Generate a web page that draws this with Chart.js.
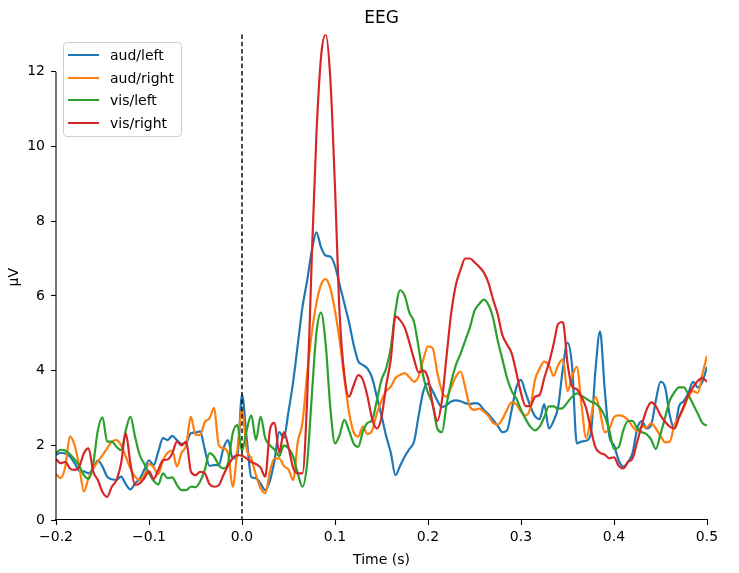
<!DOCTYPE html>
<html>
<head>
<meta charset="utf-8">
<script src="https://cdn.jsdelivr.net/npm/chart.js@4.4.1/dist/chart.umd.min.js"></script>
<style>
  html, body { margin: 0; padding: 0; background: #fff; }
  #wrap { position: relative; width: 739px; height: 573px; font-family: "DejaVu Sans", sans-serif; }
  #legend { position: absolute; left: 63px; top: 42px; width: 117px; height: 92px; border: 1px solid #d0d0d0; border-radius: 4px; background: rgba(255,255,255,0.8); padding-top: 1px; box-sizing: content-box; }
  .row { height: 22.6px; display: flex; align-items: center; font-size: 14px; color: #000; }
  .swatch { width: 31px; height: 2px; margin-left: 4px; margin-right: 11px; }
</style>
</head>
<body>
<div id="wrap">
  <canvas id="c" width="739" height="573"></canvas>
  <div id="legend"></div>
</div>
<script>
const seriesNames = ['aud/left', 'aud/right', 'vis/left', 'vis/right'];
const seriesColors = ['#1f77b4', '#ff7f0e', '#2ca02c', '#d62728'];

const times = [
  -0.200,-0.195,-0.190,-0.185,-0.180,-0.175,-0.170,-0.165,-0.160,-0.155,
  -0.150,-0.145,-0.140,-0.135,-0.130,-0.125,-0.120,-0.115,-0.110,-0.105,
  -0.100,-0.095,-0.090,-0.085,-0.080,-0.075,-0.070,-0.065,-0.060,-0.055,
  -0.050,-0.045,-0.040,-0.035,-0.030,-0.025,-0.020,-0.015,-0.010,-0.005,
  0.000,0.005,0.010,0.015,0.020,0.025,0.030,0.035,0.040,0.045,
  0.050,0.055,0.060,0.065,0.070,0.075,0.080,0.085,0.090,0.095,
  0.100,0.105,0.110,0.115,0.120,0.125,0.130,0.135,0.140,0.145,
  0.150,0.155,0.160,0.165,0.170,0.175,0.180,0.185,0.190,0.195,
  0.200,0.205,0.210,0.215,0.220,0.225,0.230,0.235,0.240,0.245,
  0.250,0.255,0.260,0.265,0.270,0.275,0.280,0.285,0.290,0.295,
  0.300,0.305,0.310,0.315,0.320,0.325,0.330,0.335,0.340,0.345,
  0.350,0.355,0.360,0.365,0.370,0.375,0.380,0.385,0.390,0.395,
  0.400,0.405,0.410,0.415,0.420,0.425,0.430,0.435,0.440,0.445,
  0.450,0.455,0.460,0.465,0.470,0.475,0.480,0.485,0.490,0.495,
  0.500
];

const audLeft = [
  1.74,1.80,1.78,1.70,1.52,1.32,1.30,1.25,1.38,1.59,
  1.43,1.16,1.09,1.07,1.16,0.96,0.82,0.98,1.10,1.35,
  1.60,1.47,1.83,2.19,2.14,2.25,2.14,2.04,2.07,2.32,
  2.34,2.37,1.89,1.45,1.47,1.47,1.92,2.14,1.65,1.70,
  3.35,2.20,1.15,1.12,0.97,0.80,1.05,1.60,2.35,2.20,
  2.90,3.70,4.70,5.70,6.40,7.20,7.70,7.30,7.08,7.05,
  6.80,6.30,5.80,5.30,4.70,4.25,4.15,4.05,3.80,3.30,
  2.80,2.25,1.80,1.20,1.45,1.70,1.90,2.10,2.80,3.45,
  3.65,3.45,3.20,3.02,3.08,3.17,3.20,3.18,3.13,3.10,
  3.13,3.10,2.95,2.83,2.68,2.52,2.35,2.40,2.95,3.55,
  3.75,3.40,3.05,2.78,2.70,3.10,2.45,2.65,3.04,4.05,
  4.75,4.10,2.05,2.10,2.12,2.30,4.00,5.05,3.50,2.25,
  2.00,1.60,1.43,1.55,1.80,2.45,2.65,2.45,2.55,3.20,
  3.70,3.55,2.80,2.45,3.05,3.18,3.40,3.70,3.55,3.70,
  4.10
];

const audRight = [
  1.23,1.12,1.43,2.23,2.00,1.43,0.76,1.12,1.38,1.56,
  1.74,1.92,2.10,2.14,2.00,1.70,1.38,1.16,1.07,1.20,
  1.50,1.41,1.23,1.60,1.80,1.86,1.43,1.80,2.00,2.77,
  2.28,2.28,2.62,2.72,3.00,2.00,1.92,1.79,0.89,1.87,
  2.95,1.90,1.65,1.20,0.85,0.72,1.30,1.65,1.65,1.45,
  1.35,1.07,2.10,2.60,3.90,5.00,5.80,6.30,6.45,6.20,
  5.60,4.80,3.80,2.90,2.35,2.23,2.50,2.30,2.40,2.85,
  3.20,3.45,3.57,3.80,3.88,3.93,3.82,3.70,3.85,4.30,
  4.65,4.60,3.95,3.45,3.30,3.55,3.84,3.97,3.55,3.04,
  2.95,2.98,2.90,2.78,2.60,2.55,2.70,2.95,3.15,3.10,
  2.90,2.80,3.00,3.75,4.05,4.24,4.15,3.86,4.15,4.30,
  3.45,3.85,4.10,3.10,2.20,2.70,3.30,2.90,2.35,2.45,
  2.75,2.80,2.78,2.68,2.50,2.38,2.50,2.48,2.59,2.45,
  2.25,2.08,2.10,2.55,2.75,3.00,3.30,3.45,3.40,3.90,
  4.40
];

const visLeft = [
  1.79,1.88,1.86,1.76,1.62,1.45,1.20,1.10,1.50,2.40,
  2.75,2.10,2.10,1.96,1.87,2.40,2.77,2.23,1.74,1.50,
  1.25,1.05,0.95,1.25,1.12,1.14,0.94,0.80,0.80,0.89,
  0.88,1.03,1.34,1.79,1.70,1.47,1.38,1.52,2.32,2.54,
  1.85,2.40,2.80,2.14,2.77,2.19,2.00,1.88,1.71,2.00,
  1.92,1.70,1.25,0.89,1.50,3.30,5.00,5.55,4.70,3.00,
  2.05,2.28,2.68,2.40,2.05,1.96,2.37,2.60,2.68,3.20,
  3.75,4.06,4.60,5.60,6.15,6.00,5.55,5.30,4.60,3.84,
  3.40,3.10,2.45,2.35,3.10,3.70,4.15,4.45,4.80,5.15,
  5.60,5.78,5.90,5.76,5.40,4.80,4.30,3.80,3.45,3.25,
  2.95,2.70,2.50,2.40,2.50,2.75,3.04,3.04,2.98,3.00,
  3.15,3.30,3.39,3.33,3.25,3.17,3.12,3.00,2.78,2.40,
  1.90,1.95,2.40,2.65,2.65,2.45,2.35,2.30,2.15,1.90,
  2.30,2.75,3.20,3.42,3.55,3.55,3.35,3.10,2.85,2.60,
  2.52
];

const visRight = [
  1.63,1.52,1.56,1.38,1.34,1.43,1.79,1.92,1.30,1.07,
  0.75,0.62,0.89,1.07,1.52,2.32,1.52,0.94,0.98,1.12,
  1.30,1.10,1.34,1.60,1.62,1.78,2.10,2.00,2.10,1.30,
  1.20,1.29,1.25,0.96,0.89,0.93,1.20,1.45,1.65,1.74,
  1.72,1.65,1.55,1.50,1.40,1.16,2.40,2.60,1.80,2.35,
  1.95,1.40,1.25,1.25,3.20,7.00,10.30,12.40,13.00,11.80,
  8.90,5.50,3.90,3.30,3.60,3.88,3.75,3.30,2.70,2.45,
  2.75,3.60,4.30,5.45,5.35,5.15,4.75,4.30,3.95,4.00,
  3.80,3.10,2.65,3.20,4.40,5.55,6.30,6.70,7.00,7.00,
  6.90,6.78,6.63,6.35,5.90,5.50,4.95,4.70,4.46,3.95,
  3.40,3.05,3.05,3.30,3.35,3.80,4.20,4.70,5.25,5.30,
  4.20,3.57,3.50,3.30,3.00,2.45,1.95,1.80,1.75,1.65,
  1.68,1.45,1.38,1.55,1.65,2.10,2.55,2.95,3.15,3.05,
  2.80,2.63,2.50,2.45,2.75,3.05,3.35,3.55,3.72,3.80,
  3.70
];

const xTicks = [-0.2, -0.1, 0.0, 0.1, 0.2, 0.3, 0.4, 0.5];
const xTickLabels = ['\u22120.2', '\u22120.1', '0.0', '0.1', '0.2', '0.3', '0.4', '0.5'];
const yTicks = [0, 2, 4, 6, 8, 10, 12];
const yTickLabels = ['0', '2', '4', '6', '8', '10', '12'];

const allSeries = [audLeft, audRight, visLeft, visRight];

const FONT = '"DejaVu Sans", sans-serif';

const spines = {
  id: 'spines',
  afterDatasetsDraw(chart) {
    const { ctx, chartArea, scales } = chart;
    const x = scales.x, y = scales.y;
    ctx.save();
    // left spine, trimmed to tick range
    ctx.strokeStyle = '#000';
    ctx.lineWidth = 1.1;
    ctx.beginPath();
    ctx.moveTo(chartArea.left, y.getPixelForValue(yTicks[0]));
    ctx.lineTo(chartArea.left, y.getPixelForValue(yTicks[yTicks.length - 1]));
    ctx.stroke();
    // dashed stimulus line at t = 0
    const px = x.getPixelForValue(0);
    ctx.setLineDash([4.5, 2.8]);
    ctx.lineWidth = 1.4;
    ctx.beginPath();
    ctx.moveTo(px, chartArea.top);
    ctx.lineTo(px, chartArea.bottom);
    ctx.stroke();
    ctx.restore();
  }
};

new Chart(document.getElementById('c'), {
  type: 'line',
  data: {
    datasets: seriesNames.map((name, i) => ({
      label: name,
      data: allSeries[i].map((v, k) => ({ x: times[k], y: v })),
      borderColor: seriesColors[i],
      backgroundColor: seriesColors[i],
      borderWidth: 2.2,
      pointRadius: 0,
      fill: false,
      cubicInterpolationMode: 'monotone',
      order: seriesNames.length - i
    }))
  },
  options: {
    responsive: false,
    animation: false,
    devicePixelRatio: 1,
    layout: { padding: { left: 0, right: 32, top: 0, bottom: 0 } },
    plugins: {
      legend: { display: false },
      tooltip: { enabled: false },
      title: {
        display: true,
        text: 'EEG',
        fullSize: false,
        color: '#000',
        font: { family: FONT, size: 17, weight: 'normal' },
        padding: { top: 8, bottom: 6 }
      }
    },
    scales: {
      x: {
        type: 'linear',
        min: -0.2,
        max: 0.5,
        afterFit: (s) => { s.height = 53; },
        afterBuildTicks: (s) => { s.ticks = xTicks.map(v => ({ value: v })); },
        ticks: {
          color: '#000',
          font: { family: FONT, size: 14 },
          padding: 4,
          maxRotation: 0,
          autoSkip: false,
          callback: (v, i) => xTickLabels[i]
        },
        grid: { display: true, drawOnChartArea: false, drawTicks: true, tickLength: 5, tickColor: '#000', tickWidth: 1.1 },
        border: { display: true, color: '#000', width: 1.1 },
        title: { display: true, text: 'Time (s)', color: '#000', font: { family: FONT, size: 14 }, padding: { top: 2, bottom: 4 } }
      },
      y: {
        type: 'linear',
        min: 0,
        max: 13,
        afterFit: (s) => { s.width = 56; },
        afterBuildTicks: (s) => { s.ticks = yTicks.map(v => ({ value: v })); },
        ticks: {
          color: '#000',
          font: { family: FONT, size: 14 },
          padding: 6,
          autoSkip: false,
          callback: (v, i) => yTickLabels[i]
        },
        grid: { display: true, drawOnChartArea: false, drawTicks: true, tickLength: 5, tickColor: '#000', tickWidth: 1.1 },
        border: { display: false },
        title: { display: true, text: '\u00b5V', color: '#000', font: { family: FONT, size: 14 }, padding: { top: 6, bottom: 2 } }
      }
    }
  },
  plugins: [spines]
});

const legend = document.getElementById('legend');
seriesNames.forEach((name, i) => {
  const row = document.createElement('div');
  row.className = 'row';
  const sw = document.createElement('span');
  sw.className = 'swatch';
  sw.style.background = seriesColors[i];
  const tx = document.createElement('span');
  tx.textContent = name;
  row.appendChild(sw);
  row.appendChild(tx);
  legend.appendChild(row);
});
</script>
</body>
</html>
